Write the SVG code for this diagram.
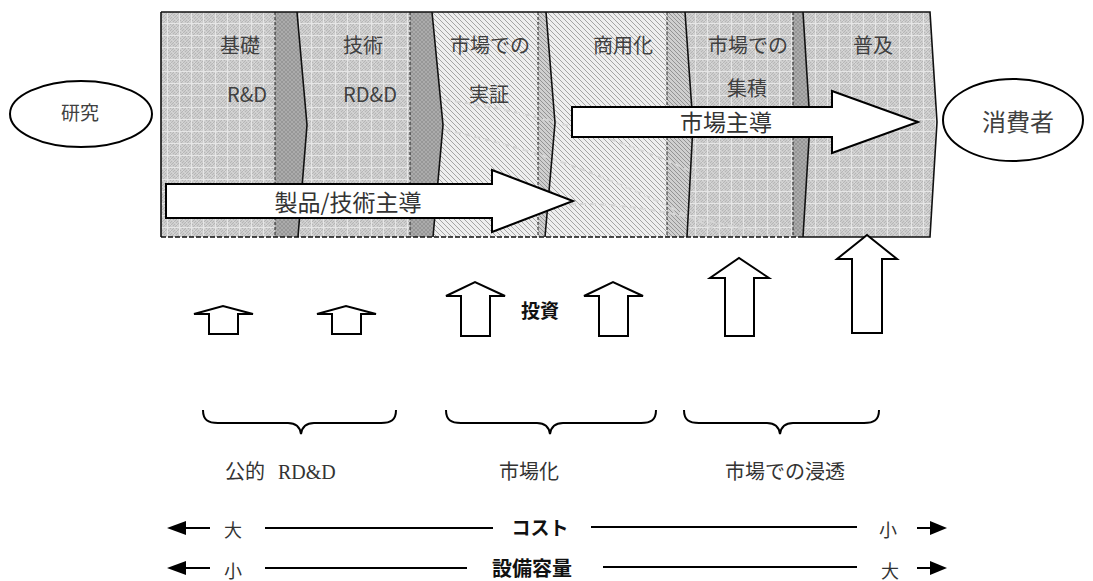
<svg xmlns="http://www.w3.org/2000/svg" width="1093" height="581" viewBox="0 0 1093 581">
<style>
.lbl{font-family:"Noto Sans CJK JP","Noto Sans",sans-serif;font-size:20px;fill:#404040;text-anchor:middle}
.big{font-family:"Noto Sans CJK JP","Noto Sans",sans-serif;font-size:23px;fill:#333;text-anchor:middle}
.ser{font-family:"Liberation Serif","Noto Sans CJK JP",serif;font-size:20px;fill:#333}
.bold{font-family:"Noto Sans CJK JP",sans-serif;font-weight:bold;fill:#111;text-anchor:middle}
.ol{fill:#fff;stroke:#000;stroke-width:2;stroke-linejoin:miter}
.chev{fill:none;stroke:#111;stroke-width:1.6}
.dash{fill:none;stroke:#222;stroke-width:1;stroke-dasharray:3 2}
.ln{stroke:#000;stroke-width:2;fill:none}
.brace{fill:none;stroke:#000;stroke-width:2}
.ghost{fill:none;stroke:#d6d6d6;stroke-width:2;stroke-dasharray:6 4}
</style>
<defs>
<pattern id="pg" width="12" height="12" patternUnits="userSpaceOnUse">
<rect width="12" height="12" fill="#cdcdcd"/>
<path d="M0 3L3 0M0 6L6 0M0 9L9 0M0 12L12 0M3 12L12 3M6 12L12 6M9 12L12 9" stroke="#b0b0b0" stroke-width="0.8"/>
<path d="M0 0L12 12M6 0L12 6M0 6L6 12" stroke="#e0e0e0" stroke-width="0.6"/>
<path d="M0 11.5H12M11.5 0V12" stroke="#e6e6e6" stroke-width="1"/>
</pattern>
<pattern id="ph" width="5" height="5" patternUnits="userSpaceOnUse">
<rect width="5" height="5" fill="#eeeeee"/>
<path d="M0 0L5 5M-1 4L1 6M4 -1L6 1" stroke="#a4a4a4" stroke-width="1"/>
</pattern>
<pattern id="pd" width="4" height="4" patternUnits="userSpaceOnUse">
<rect width="4" height="4" fill="#ababab"/>
<path d="M0 4L4 0M0 0L4 4" stroke="#8e8e8e" stroke-width="0.7"/>
</pattern>
<pattern id="pdh" width="4" height="4" patternUnits="userSpaceOnUse">
<rect width="4" height="4" fill="#cfcfcf"/>
<path d="M0 0L4 4M-1 3L1 5M3 -1L5 1" stroke="#8c8c8c" stroke-width="0.9"/>
</pattern>
</defs>

<g id="band">
<polygon points="161,12 930,12 937,122 930,237 161,237" fill="url(#pg)"/>
<polygon points="161,12 803,12 810,123 803,237 161,237" fill="url(#pg)"/>
<polygon points="793,12 803,12 810,123 803,237 793,237" fill="url(#pd)"/>
<polygon points="161,12 685,12 693,125 687,237 161,237" fill="url(#ph)"/>
<polygon points="667,12 685,12 693,125 687,237 667,237" fill="url(#pdh)"/>
<polygon points="161,12 546,12 555,123 545,237 161,237" fill="url(#ph)"/>
<polygon points="538,12 546,12 555,123 545,237 538,237" fill="url(#pdh)"/>
<polygon points="161,12 432,12 443,125 433,237 161,237" fill="url(#pg)"/>
<polygon points="410,12 432,12 443,125 433,237 410,237" fill="url(#pd)"/>
<polygon points="161,12 297,12 307,125 298,237 161,237" fill="url(#pg)"/>
<polygon points="275,12 297,12 307,125 298,237 275,237" fill="url(#pd)"/>
<path class="ghost" d="M445,100 C520,110 600,130 700,175 M445,130 C540,150 620,180 720,232 M560,205 C620,200 680,215 760,232"/>
<polyline class="chev" points="297,12 307,125 298,237"/>
<polyline class="chev" points="432,12 443,125 433,237"/>
<polyline class="chev" points="546,12 555,123 545,237"/>
<polyline class="chev" points="685,12 693,125 687,237"/>
<polyline class="chev" points="803,12 810,123 803,237"/>
<path class="dash" d="M275,12V237M410,12V237M538,12V237M667,12V237M793,12V237"/>
<polyline points="161,12 930,12 937,122 930,237 803,237" fill="none" stroke="#111" stroke-width="1.6"/>
<line x1="161" y1="12" x2="161" y2="237" stroke="#111" stroke-width="1.6"/>
<line x1="161" y1="237" x2="803" y2="237" stroke="#111" stroke-width="1.6" stroke-dasharray="5 2"/>
<text class="lbl" x="240" y="53">基礎</text>
<text class="lbl" x="247" y="102">R&amp;D</text>
<text class="lbl" x="363" y="53">技術</text>
<text class="lbl" x="370" y="102">RD&amp;D</text>
<text class="lbl" x="490" y="53">市場での</text>
<text class="lbl" x="489" y="102">実証</text>
<text class="lbl" x="623" y="53">商用化</text>
<text class="lbl" x="748" y="53">市場での</text>
<text class="lbl" x="747" y="96">集積</text>
<text class="lbl" x="873" y="53">普及</text>
</g>

<g id="arrow-product">
<polygon class="ol" points="166,184 492,184 492,170 573,201 492,232 492,218 166,218"/>
<text class="big" x="348" y="211">製品/技術主導</text>
</g>
<g id="arrow-market">
<polygon class="ol" points="572,107 832,107 832,91 918,122 832,153 832,137 572,137"/>
<text class="big" x="726" y="131">市場主導</text>
</g>

<g id="node-research">
<ellipse cx="81" cy="114" rx="71" ry="33" fill="#fff" stroke="#000" stroke-width="2"/>
<text class="lbl" x="80" y="120" style="font-size:19px">研究</text>
</g>
<g id="node-consumer">
<ellipse cx="1013" cy="120" rx="70" ry="41" fill="#fff" stroke="#000" stroke-width="2"/>
<text class="lbl" x="1018" y="131" style="font-size:24px">消費者</text>
</g>

<g id="investment">
<polygon class="ol" points="209,334 209,314 194,314 223,306 253,314 238,314 238,334"/>
<polygon class="ol" points="332,334 332,314 317,314 346,306 376,314 361,314 361,334"/>
<polygon class="ol" points="461,336 461,296 446,296 475,282 505,296 490,296 490,336"/>
<polygon class="ol" points="599,336 599,296 584,296 613,282 643,296 628,296 628,336"/>
<polygon class="ol" points="725,336 725,278 710,278 739,258 769,278 754,278 754,336"/>
<polygon class="ol" points="852,333 852,259 837,259 867,235 897,259 882,259 882,333"/>
<text class="bold" x="540" y="318" style="font-size:19px">投資</text>
</g>

<g id="stages">
<path class="brace" d="M203,410 C203,420 208,423 218,423 L288,423 C296,423 300,427 301,434 C302,427 306,423 314,423 L381,423 C391,423 396,420 396,410"/>
<path class="brace" d="M446,410 C446,420 451,423 461,423 L537,423 C545,423 549,427 550,434 C551,427 555,423 563,423 L641,423 C651,423 656,420 656,410"/>
<path class="brace" d="M684,410 C684,420 689,423 699,423 L767,423 C775,423 779,427 780,434 C781,427 785,423 793,423 L864,423 C874,423 879,420 879,410"/>
<text class="ser" y="479"><tspan x="225">公的</tspan><tspan x="278">RD&amp;D</tspan></text>
<text class="ser" x="529" y="479" text-anchor="middle">市場化</text>
<text class="ser" x="785" y="479" text-anchor="middle">市場での浸透</text>
</g>

<g id="connectors">
<line class="ln" x1="180" y1="528" x2="210" y2="528"/>
<polygon points="167,528 186,521 186,535" fill="#000"/>
<line class="ln" x1="265" y1="528" x2="493" y2="528"/>
<line class="ln" x1="591" y1="527" x2="857" y2="527"/>
<line class="ln" x1="917" y1="528" x2="935" y2="528"/>
<polygon points="947,528 930,521 930,535" fill="#000"/>
<line class="ln" x1="180" y1="568" x2="210" y2="568"/>
<polygon points="167,568 186,561 186,575" fill="#000"/>
<line class="ln" x1="265" y1="568" x2="467" y2="568"/>
<line class="ln" x1="603" y1="567" x2="857" y2="567"/>
<line class="ln" x1="917" y1="568" x2="935" y2="568"/>
<polygon points="947,568 930,561 930,575" fill="#000"/>
</g>
<g id="scale-labels">
<text class="ser" x="224" y="537" style="font-size:18px">大</text>
<text class="bold" x="540" y="535" style="font-size:19px">コスト</text>
<text class="ser" x="879" y="537" style="font-size:18px">小</text>
<text class="ser" x="224" y="578" style="font-size:18px">小</text>
<text class="bold" x="532" y="576" style="font-size:20px">設備容量</text>
<text class="ser" x="881" y="578" style="font-size:18px">大</text>
</g>
</svg>
